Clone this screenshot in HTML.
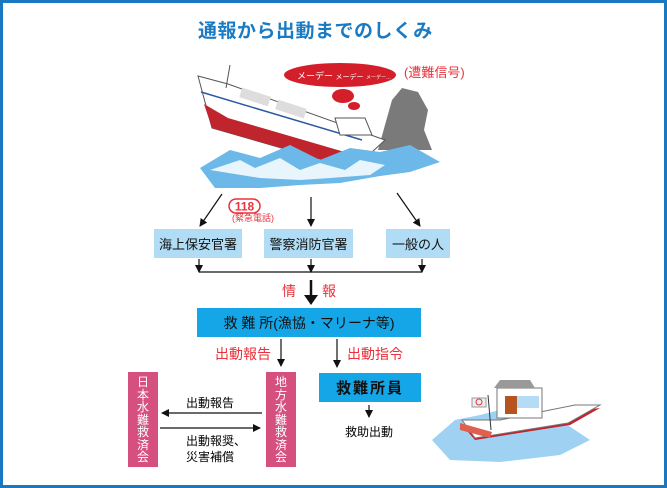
<!DOCTYPE html>
<html><head><meta charset="utf-8"><style>
body{margin:0;width:667px;height:488px;overflow:hidden;background:#fff;font-family:"Liberation Sans","Noto Sans CJK JP",sans-serif;}
.frame{position:absolute;left:0;top:0;width:661px;height:482px;border:3px solid #1a78c0;}
.t{position:absolute;white-space:nowrap;line-height:1;}
.box{position:absolute;display:flex;align-items:center;justify-content:center;font-size:13px;color:#111;}
.lb{background:#b1dcf5;}
.bb{background:#14a6e6;}
.pk{position:absolute;background:#d5507e;color:#fff;font-size:12px;line-height:12.5px;text-align:center;padding-top:4px;box-sizing:border-box;overflow:hidden;}
.red{color:#e8323c;}
</style></head><body>
<div class="frame"></div>
<div class="t" style="left:198px;top:22px;font-size:19px;font-weight:bold;color:#1a7ac4;letter-spacing:0.5px;">通報から出動までのしくみ</div>

<svg width="667" height="488" style="position:absolute;left:0;top:0">
<defs><marker id="a" markerWidth="8" markerHeight="8" refX="7" refY="4" orient="auto" markerUnits="userSpaceOnUse"><path d="M0,0 L8,4 L0,8 Z" fill="#111"/></marker></defs>
<path d="M378,150 L392,100 L402,88 L418,92 L428,110 L424,130 L432,150 Z" fill="#7a7a7a"/>
<path d="M198,76 L228,84 L385,140 L372,152 L330,162 L212,128 Z" fill="#fff" stroke="#555" stroke-width="1"/>
<path d="M204,104 L212,128 L330,162 L348,153 L228,118 Z" fill="#c0242c"/>
<path d="M201,92 L362,140" stroke="#2a5aa0" stroke-width="1.5"/>
<rect x="240" y="92" width="30" height="10" fill="#ddd" transform="rotate(18 255 97)"/>
<rect x="276" y="104" width="30" height="10" fill="#ddd" transform="rotate(18 291 109)"/>
<path d="M335,118 L365,118 L372,135 L340,135 Z" fill="#fff" stroke="#555"/>
<path d="M230,65 L226,88" stroke="#555"/>
<path d="M200,168 L230,150 L260,158 L290,145 L320,160 L350,148 L380,152 L410,145 L440,162 L410,172 L380,176 L340,183 L300,185 L260,188 L215,188 Z" fill="#6cb8e8"/>
<path d="M210,170 L240,160 L255,168 L280,158 L300,170 L320,163 L345,170 L360,160 L385,165 L370,175 L330,178 L300,180 L260,178 Z" fill="#fff" opacity="0.85"/>
<ellipse cx="340" cy="75" rx="56" ry="12" fill="#d41f2a"/>
<ellipse cx="343" cy="96" rx="11" ry="7" fill="#d41f2a"/>
<ellipse cx="354" cy="106" rx="6" ry="4" fill="#d41f2a"/>
<text x="297" y="79" font-size="9" fill="#fff" font-family="Liberation Sans,Noto Sans CJK JP,sans-serif">メーデー <tspan font-size="7">メーデー</tspan> <tspan font-size="5">メーデー…</tspan></text>
<g stroke="#111" stroke-width="1.2" fill="none">
<line x1="222" y1="194" x2="200" y2="226" marker-end="url(#a)"/>
<line x1="311" y1="197" x2="311" y2="226" marker-end="url(#a)"/>
<line x1="397" y1="193" x2="420" y2="226" marker-end="url(#a)"/>
<line x1="199" y1="259" x2="199" y2="272" marker-end="url(#a)"/>
<line x1="311" y1="259" x2="311" y2="272" marker-end="url(#a)"/>
<line x1="422" y1="259" x2="422" y2="272" marker-end="url(#a)"/>
<line x1="199" y1="272" x2="422" y2="272"/>
<line x1="281" y1="339" x2="281" y2="366" marker-end="url(#a)"/>
<line x1="337" y1="339" x2="337" y2="367" marker-end="url(#a)"/>
<line x1="369" y1="405" x2="369" y2="417" marker-end="url(#a)"/>
<line x1="262" y1="413" x2="162" y2="413" marker-end="url(#a)"/>
<line x1="160" y1="428" x2="260" y2="428" marker-end="url(#a)"/>
</g>
<line x1="311" y1="280" x2="311" y2="298" stroke="#111" stroke-width="2.5"/>
<path d="M304,295 L318,295 L311,305 Z" fill="#111"/>
<rect x="229" y="199" width="31" height="14" rx="7" fill="#fff" stroke="#e8323c" stroke-width="1.5"/>
<text x="244.5" y="210.5" font-size="12" font-weight="bold" fill="#e8323c" text-anchor="middle" font-family="Liberation Sans,sans-serif">118</text>
<path d="M432,440 L455,420 L480,415 L520,405 L560,420 L590,440 L560,455 L500,462 L450,460 Z" fill="#9fd2f2"/>
<path d="M462,425 L475,440 L570,425 L600,408 Z" fill="#c0242c"/>
<path d="M462,420 L475,438 L568,423 L600,405 L575,405 L500,420 Z" fill="#fff" stroke="#777"/>
<rect x="497" y="388" width="45" height="30" fill="#fff" stroke="#777"/>
<rect x="505" y="396" width="12" height="18" fill="#b5541e"/>
<rect x="517" y="396" width="22" height="12" fill="#b4dcf5"/>
<path d="M494,388 L500,380 L530,380 L535,388 Z" fill="#999"/>
<rect x="472" y="398" width="14" height="9" fill="#eee" stroke="#999"/>
<circle cx="479" cy="402" r="3" fill="none" stroke="#e8323c"/>
<line x1="488" y1="395" x2="491" y2="430" stroke="#333"/>
<path d="M460,423 L492,432 L490,438 L460,430 Z" fill="#e06050"/>
</svg>

<div class="t red" style="left:404px;top:66px;font-size:13px;">(遭難信号)</div>
<div class="t red" style="left:232px;top:214px;font-size:9px;">(緊急電話)</div>

<div class="box lb" style="left:154px;top:229px;width:88px;height:29px;">海上保安官署</div>
<div class="box lb" style="left:264px;top:229px;width:89px;height:29px;">警察消防官署</div>
<div class="box lb" style="left:386px;top:229px;width:64px;height:29px;">一般の人</div>

<div class="t red" style="left:282px;top:284px;font-size:14px;">情</div>
<div class="t red" style="left:322px;top:284px;font-size:14px;">報</div>

<div class="box bb" style="left:197px;top:308px;width:224px;height:29px;font-size:14px;">救 難 所(漁協・マリーナ等)</div>

<div class="t red" style="left:215px;top:347px;font-size:14px;">出動報告</div>
<div class="t red" style="left:347px;top:347px;font-size:14px;">出動指令</div>

<div class="box bb" style="left:319px;top:373px;width:102px;height:29px;font-size:15px;font-weight:bold;letter-spacing:2px;">救難所員</div>
<div class="t" style="left:345px;top:426px;font-size:12px;">救助出動</div>

<div class="pk" style="left:128px;top:372px;width:30px;height:95px;">日<br>本<br>水<br>難<br>救<br>済<br>会</div>
<div class="pk" style="left:266px;top:372px;width:30px;height:95px;">地<br>方<br>水<br>難<br>救<br>済<br>会</div>

<div class="t" style="left:186px;top:397px;font-size:12px;">出動報告</div>
<div class="t" style="left:186px;top:435px;font-size:12px;">出動報奨、</div>
<div class="t" style="left:186px;top:451px;font-size:12px;">災害補償</div>
</body></html>
